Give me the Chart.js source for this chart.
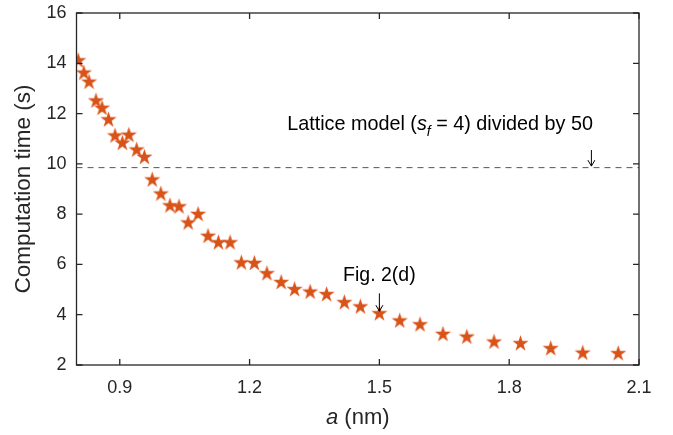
<!DOCTYPE html>
<html>
<head>
<meta charset="utf-8">
<script src="https://cdn.jsdelivr.net/npm/chart.js@4.4.1/dist/chart.umd.min.js"></script>
<style>
  html, body { margin: 0; padding: 0; background: #fff; }
  #wrap { width: 673px; height: 435px; }
</style>
</head>
<body>
<div id="wrap"><canvas id="chart" width="673" height="435"></canvas></div>
<script>
// Data
const aValues = [0.804, 0.817, 0.829, 0.845, 0.859, 0.874, 0.889, 0.906, 0.921, 0.939,
    0.957, 0.975, 0.995, 1.016, 1.037, 1.058, 1.081, 1.104, 1.128, 1.155,
    1.181, 1.211, 1.240, 1.273, 1.304, 1.340, 1.378, 1.419, 1.456, 1.500,
    1.547, 1.594, 1.647, 1.702, 1.765, 1.826, 1.896, 1.970, 2.052];
const timeValues = [14.10, 13.61, 13.25, 12.50, 12.21, 11.75, 11.11, 10.82, 11.14, 10.55,
    10.26, 9.36, 8.80, 8.33, 8.29, 7.65, 7.99, 7.12, 6.86, 6.86,
    6.06, 6.04, 5.63, 5.28, 5.00, 4.90, 4.80, 4.48, 4.31, 4.04,
    3.75, 3.60, 3.22, 3.11, 2.91, 2.85, 2.65, 2.47, 2.45];
const latticeTime = 9.85;
const xTicks = [0.9, 1.2, 1.5, 1.8, 2.1];
const yTicks = [2, 4, 6, 8, 10, 12, 14, 16];
const xRange = [0.8, 2.1];
const yRange = [2, 16];

const starColor = '#D95319';
const axisColor = '#262626';
const fontFamily = '"Liberation Sans", Arial, Helvetica, sans-serif';

// Filled pentagram marker
function makeStar(r) {
    const size = Math.ceil(r * 2 + 2);
    const c = document.createElement('canvas');
    c.width = size;
    c.height = size;
    const g = c.getContext('2d');
    const cx = size / 2, cy = size / 2;
    const inner = r * 0.382;
    g.beginPath();
    for (let i = 0; i < 10; i++) {
        const rad = i % 2 === 0 ? r : inner;
        const ang = -Math.PI / 2 + i * Math.PI / 5;
        const px = cx + rad * Math.cos(ang);
        const py = cy + rad * Math.sin(ang);
        if (i === 0) g.moveTo(px, py); else g.lineTo(px, py);
    }
    g.closePath();
    g.fillStyle = starColor;
    g.fill();
    return c;
}

// Draw text made of several font runs
function drawRuns(ctx, runs, x, y, align) {
    let total = 0;
    runs.forEach(r => { ctx.font = r.font; total += ctx.measureText(r.text).width; });
    let cx = align === 'center' ? x - total / 2 : x;
    ctx.textBaseline = 'alphabetic';
    ctx.textAlign = 'left';
    runs.forEach(r => {
        ctx.font = r.font;
        ctx.fillText(r.text, cx, y + (r.dy || 0));
        cx += ctx.measureText(r.text).width;
    });
}

function drawArrow(ctx, x, y1, y2) {
    ctx.beginPath();
    ctx.moveTo(x, y1);
    ctx.lineTo(x, y2);
    ctx.moveTo(x - 3.5, y2 - 6);
    ctx.lineTo(x, y2);
    ctx.lineTo(x + 3.5, y2 - 6);
    ctx.stroke();
}

const framePlugin = {
    id: 'frame',
    afterDraw(chart) {
        const { ctx, chartArea: area, scales } = chart;
        const xs = scales.x, ys = scales.y;
        ctx.save();

        // Box and inward ticks
        ctx.strokeStyle = axisColor;
        ctx.lineWidth = 1.3;
        ctx.strokeRect(area.left, area.top, area.right - area.left, area.bottom - area.top);
        ctx.beginPath();
        xTicks.forEach(v => {
            const px = xs.getPixelForValue(v);
            ctx.moveTo(px, area.bottom); ctx.lineTo(px, area.bottom - 6);
            ctx.moveTo(px, area.top); ctx.lineTo(px, area.top + 6);
        });
        yTicks.forEach(v => {
            const py = ys.getPixelForValue(v);
            ctx.moveTo(area.left, py); ctx.lineTo(area.left + 6, py);
            ctx.moveTo(area.right, py); ctx.lineTo(area.right - 6, py);
        });
        ctx.stroke();

        // Axis titles
        ctx.fillStyle = axisColor;
        ctx.save();
        ctx.translate(24, (area.top + area.bottom) / 2);
        ctx.rotate(-Math.PI / 2);
        ctx.font = '22.5px ' + fontFamily;
        ctx.textAlign = 'center';
        ctx.textBaseline = 'middle';
        ctx.fillText('Computation time (s)', 0, 0);
        ctx.restore();

        drawRuns(ctx, [
            { text: 'a', font: 'italic 22px ' + fontFamily },
            { text: ' (nm)', font: '22px ' + fontFamily }
        ], (area.left + area.right) / 2, 424, 'center');

        // Annotations
        ctx.fillStyle = '#000';
        ctx.strokeStyle = '#000';
        ctx.lineWidth = 1;
        drawRuns(ctx, [
            { text: 'Lattice model (', font: '19.8px ' + fontFamily },
            { text: 's', font: 'italic 19.8px ' + fontFamily },
            { text: 'f', font: 'italic 14px ' + fontFamily, dy: 6 },
            { text: ' = 4) divided by 50', font: '19.8px ' + fontFamily }
        ], xs.getPixelForValue(1.287), ys.getPixelForValue(11.35), 'left');
        drawArrow(ctx, xs.getPixelForValue(1.99), ys.getPixelForValue(10.55), ys.getPixelForValue(9.91));

        drawRuns(ctx, [
            { text: 'Fig. 2(d)', font: '19.5px ' + fontFamily }
        ], xs.getPixelForValue(1.5), ys.getPixelForValue(5.33), 'center');
        drawArrow(ctx, xs.getPixelForValue(1.5), ys.getPixelForValue(4.85), ys.getPixelForValue(4.14));

        ctx.restore();
    }
};

const ctx = document.getElementById('chart').getContext('2d');
const chart = new Chart(ctx, {
    type: 'scatter',
    data: {
        datasets: [
            {
                label: 'Lattice model',
                type: 'line',
                data: xRange.map(x => ({ x: x, y: latticeTime })),
                borderColor: '#555555',
                borderWidth: 1,
                borderDash: [6, 5],
                pointRadius: 0,
                order: 2
            },
            {
                label: 'Computation time',
                data: aValues.map((a, i) => ({ x: a, y: timeValues[i] })),
                pointStyle: makeStar(8.5),
                pointRadius: 8.5,
                order: 1
            }
        ]
    },
    options: {
        responsive: false,
        animation: false,
        layout: { padding: { top: 13, right: 34, left: 0, bottom: 0 } },
        plugins: {
            legend: { display: false },
            tooltip: { enabled: false }
        },
        scales: {
            x: {
                type: 'linear',
                min: xRange[0],
                max: xRange[1],
                afterBuildTicks: s => { s.ticks = xTicks.map(v => ({ value: v })); },
                afterFit: s => { s.height = 70; s.paddingLeft = 0; s.paddingRight = 0; },
                grid: { display: false, drawTicks: false },
                border: { display: false },
                ticks: {
                    color: axisColor,
                    padding: 12,
                    maxRotation: 0,
                    font: { family: fontFamily, size: 18 },
                    callback: v => v.toFixed(1)
                }
            },
            y: {
                type: 'linear',
                min: yRange[0],
                max: yRange[1],
                afterBuildTicks: s => { s.ticks = yTicks.map(v => ({ value: v })); },
                afterFit: s => { s.width = 76.5; s.paddingTop = 0; s.paddingBottom = 0; },
                grid: { display: false, drawTicks: false },
                border: { display: false },
                ticks: {
                    color: axisColor,
                    padding: 10,
                    font: { family: fontFamily, size: 18 },
                    callback: v => String(v)
                }
            }
        }
    },
    plugins: [framePlugin]
});
</script>
</body>
</html>
